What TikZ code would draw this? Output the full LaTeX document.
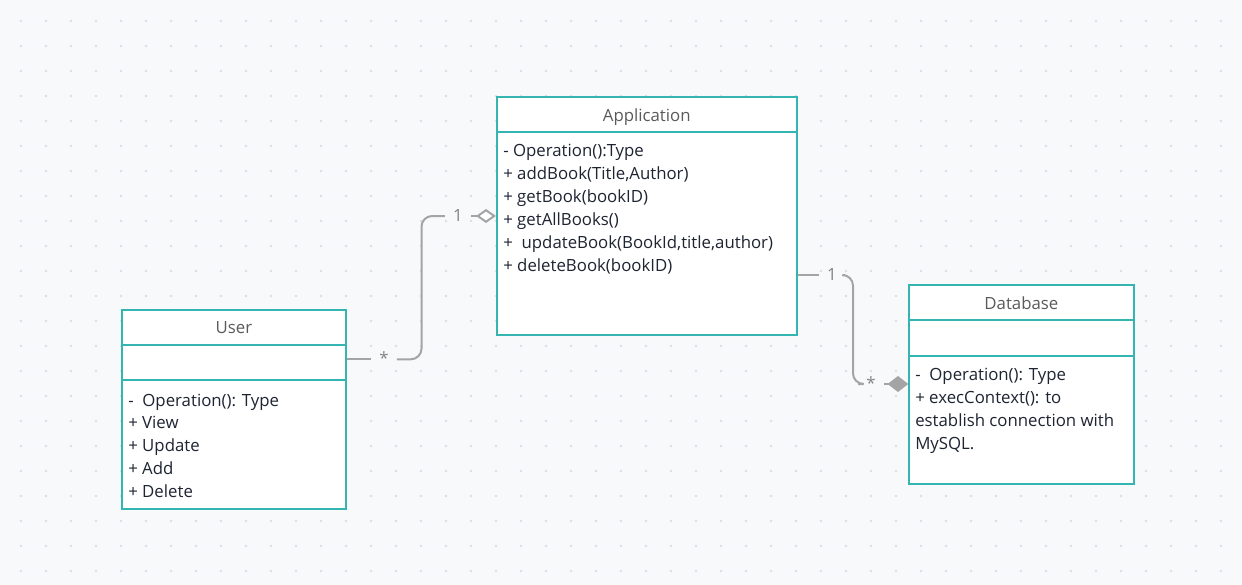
\documentclass[tikz,border=0pt]{standalone}
\usepackage{fontspec}
\setmainfont{Open Sans}
\usetikzlibrary{arrows.meta,positioning,fit,calc}
\definecolor{umlteal}{HTML}{35B5B1}
\definecolor{linkgray}{HTML}{A4A4A4}
\definecolor{titlegray}{HTML}{5A5A5A}
\definecolor{membertext}{HTML}{1E2432}
\definecolor{canvas}{HTML}{F8F9FB}
\definecolor{griddot}{HTML}{DCDEE3}
\tikzset{
	x=0.75pt, y=-0.75pt,
	compartment/.style = {
			draw = umlteal,
			fill = white,
			line width = 1.5pt,
			inner sep = 0pt,
		},
	headtext/.style = {
			font = \fontsize{12.6}{15}\selectfont,
			text = titlegray,
			anchor = base,
			yshift = -4.9pt,
		},
	member/.style = {
			font = \fontsize{12.6}{15}\selectfont,
			text = membertext,
			anchor = base west,
			inner sep = 0pt,
		},
	mult/.style = {
			font = \fontsize{12.6}{15}\selectfont,
			text = linkgray!80!black,
			inner xsep = 6pt,
			inner ysep = 0pt,
		},
	link/.style = {draw=linkgray, line width=1.5pt},
}

\begin{document}
\begin{tikzpicture}
	% Canvas with dotted grid
	\fill[canvas] (0,0) rectangle (1242,585);
	\useasboundingbox (0,0) rectangle (1242,585);
	\foreach \x in {21,46,...,1221}
		{   \foreach \y in {21,46,...,571}
				{ \fill[griddot] (\x,\y) circle (1.1pt); }
		}

	% Application class
	\node[compartment, fit={(497,97) (796.5,132.3)}] (app-head) {};
	\node[compartment, fit={(497,132.3) (796.5,334.5)}] (app-ops) {};
	\node[headtext] (app-name) at (app-head.center) {Application};
	\foreach \t [count=\i] in {{- Operation():Type}, {+ addBook(Title,Author)}, {+ getBook(bookID)}, {+ getAllBooks()}, {+\ \ updateBook(BookId,title,author)}, {+ deleteBook(bookID)}}
		{ \node[member] (app-op\i) at (503, 156.7+23*\i-23) {\t}; }

	% User class
	\node[compartment, fit={(122,310) (346,344.5)}] (user-head) {};
	\node[compartment, fit={(122,344.5) (346,380)}] (user-attr) {};
	\node[compartment, fit={(122,380) (346,509.3)}] (user-ops) {};
	\node[headtext] (user-name) at (user-head.center) {User};
	\foreach \t [count=\i] in {{-\ \ Operation(): Type}, {+ View}, {+ Update}, {+ Add}, {+ Delete}}
		{ \node[member] (user-op\i) at (128, 406+22.8*\i-22.8) {\t}; }

	% Database class
	\node[compartment, fit={(909.3,285) (1133.5,320)}] (db-head) {};
	\node[compartment, fit={(909.3,320) (1133.5,355.7)}] (db-attr) {};
	\node[compartment, fit={(909.3,355.7) (1133.5,483.5)}] (db-ops) {};
	\node[headtext] (db-name) at (db-head.center) {Database};
	\foreach \t [count=\i] in {{-\ \ Operation(): Type}, {+ execContext(): to}, {establish connection with}, {MySQL.}}
		{ \node[member] (db-op\i) at (915, 380.7+22.9*\i-22.9) {\t}; }

	% User -- Application (aggregation)
	\node[mult, text height=0.76em, text depth=-0.42em] (user-mult) at (384,359.3) {*};
	\node[mult] (app-mult) at (458,216) {1};
	\coordinate (user-bend) at (421.5,0);
	\draw[link] (user-attr.east |- user-mult) -- (user-mult.west);
	\draw[link, rounded corners=8pt] (user-mult.east) -| (user-bend |- app-mult) -- (app-mult.west);
	\draw[link, -{Diamond[fill=white, length=15pt, width=10.5pt]}] (app-mult.east) -- (app-mult.east -| app-ops.west);

	% Application -- Database (composition)
	\node[mult] (app-mult2) at (832,275) {1};
	\node[mult, text height=0.76em, text depth=-0.42em] (db-mult) at (871,384) {*};
	\coordinate (db-bend) at (853,0);
	\draw[link] (app-ops.east |- app-mult2) -- (app-mult2.west);
	\draw[link, rounded corners=8pt] (app-mult2.east) -| (db-bend |- db-mult) -- (db-mult.west);
	\draw[link, -{Diamond[fill=linkgray, length=15.5pt, width=12pt]}] (db-mult.east) -- (db-mult.east -| db-ops.west);
\end{tikzpicture}
\end{document}
